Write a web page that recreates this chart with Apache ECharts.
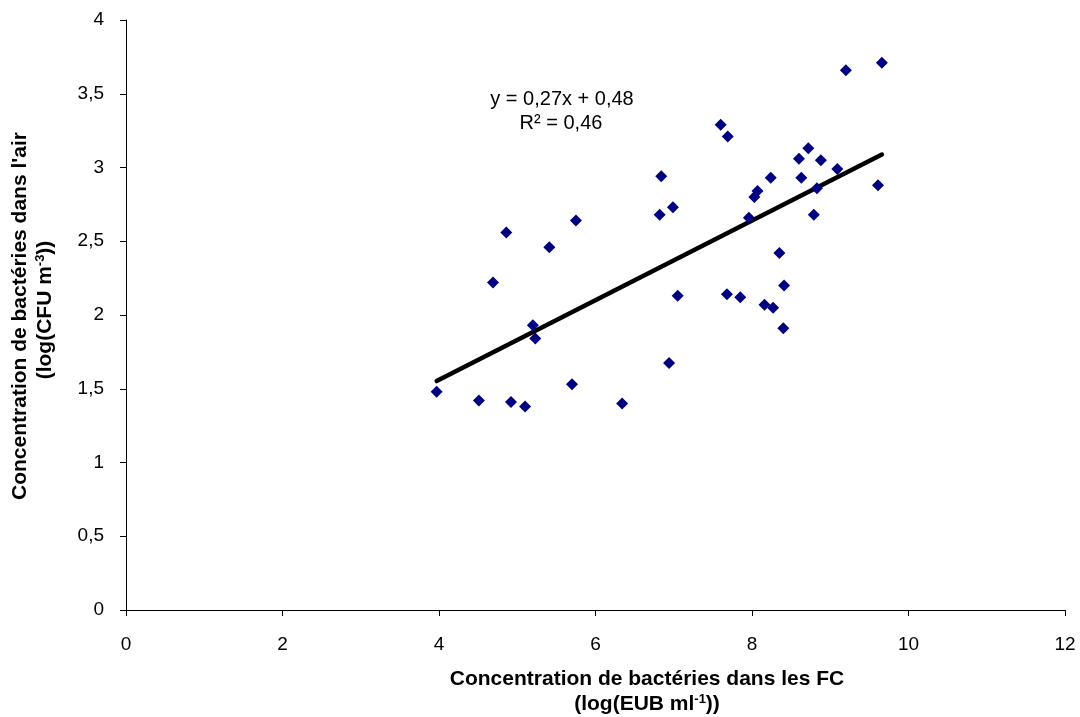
<!DOCTYPE html>
<html>
<head>
<meta charset="utf-8">
<script src="https://cdn.jsdelivr.net/npm/echarts@6/dist/echarts.min.js"></script>
<style>
  html, body { margin: 0; padding: 0; background: #fff; }
  #chart { width: 1080px; height: 717px; }
</style>
</head>
<body>
<div id="chart"></div>
<script>
// Bacterial concentration in FC (x) vs. in air (y), log scale values
const fcLog = [3.97, 4.51, 4.69, 4.86, 4.92, 5.10, 5.20, 5.23, 5.41, 5.70,
               5.75, 6.34, 6.82, 6.84, 6.99, 6.94, 7.05, 7.60, 7.69, 7.68,
               7.85, 7.96, 8.03, 8.07, 8.16, 8.24, 8.27, 8.35, 8.41, 8.40,
               8.60, 8.63, 8.72, 8.88, 9.09, 8.83, 9.61, 8.79, 9.20, 9.66];
const airLog = [1.48, 1.42, 2.22, 2.56, 1.41, 1.38, 1.93, 1.84, 2.46, 1.53,
                2.64, 1.40, 2.68, 2.94, 2.73, 1.675, 2.13, 3.29, 3.21, 2.14,
                2.12, 2.66, 2.80, 2.84, 2.07, 2.93, 2.05, 2.42, 2.20, 1.91,
                3.06, 2.93, 3.13, 3.05, 2.99, 2.86, 2.88, 2.68, 3.66, 3.71];

// Linear fit as reported on the chart
const slope = 0.27;
const intercept = 0.48;
const r2 = 0.46;

const xTicks = { min: 0, max: 12, interval: 2 };
const yTicks = { min: 0, max: 4, interval: 0.5 };

const fmt = v => String(v).replace('.', ',');

const points = fcLog.map((x, i) => [x, airLog[i]]);
const xMin = Math.min(...fcLog), xMax = Math.max(...fcLog);
const fitLine = [[xMin, slope * xMin + intercept], [xMax, slope * xMax + intercept]];

const chart = echarts.init(document.getElementById('chart'));
const font = 'Liberation Sans, Arial, sans-serif';

chart.setOption({
  animation: false,
  backgroundColor: '#fff',
  grid: { left: 126, right: 15, top: 20, bottom: 107 },
  xAxis: {
    type: 'value', min: xTicks.min, max: xTicks.max, interval: xTicks.interval,
    axisLine: { show: true, lineStyle: { color: '#000', width: 1 } },
    axisTick: { show: true, inside: false, length: 6, lineStyle: { color: '#000' } },
    splitLine: { show: false },
    axisLabel: { color: '#000', fontFamily: font, fontSize: 19, margin: 25, formatter: fmt }
  },
  yAxis: {
    type: 'value', min: yTicks.min, max: yTicks.max, interval: yTicks.interval,
    axisLine: { show: true, lineStyle: { color: '#000', width: 1 } },
    axisTick: { show: true, inside: false, length: 6, lineStyle: { color: '#000' } },
    splitLine: { show: false },
    axisLabel: { color: '#000', fontFamily: font, fontSize: 19, margin: 22, formatter: fmt }
  },
  series: [
    {
      type: 'scatter',
      data: points,
      symbol: 'diamond',
      symbolSize: 12,
      itemStyle: { color: '#000080', opacity: 1 },
      z: 3
    },
    {
      type: 'line',
      data: fitLine,
      symbol: 'none',
      lineStyle: { color: '#000', width: 4.5, cap: 'round' },
      z: 2
    }
  ],
  graphic: [
    {
      type: 'text',
      style: {
        x: 562, y: 99, text: 'y = ' + fmt(slope) + 'x + ' + fmt(intercept),
        align: 'center', verticalAlign: 'middle',
        font: '20px ' + font, fill: '#000'
      }
    },
    {
      type: 'text',
      style: {
        x: 561, y: 123, text: 'R² = ' + fmt(r2),
        align: 'center', verticalAlign: 'middle',
        font: '20px ' + font, fill: '#000'
      }
    },
    {
      type: 'text',
      style: {
        x: 647, y: 679, text: 'Concentration de bactéries dans les FC',
        align: 'center', verticalAlign: 'middle',
        font: 'bold 21px ' + font, fill: '#000'
      }
    },
    {
      type: 'text',
      style: {
        x: 647, y: 704,
        text: '{n|(log(EUB ml}{s|-1}{n|))}',
        align: 'center', verticalAlign: 'middle',
        rich: {
          n: { fontFamily: font, fontWeight: 'bold', fontSize: 21, color: '#000' },
          s: { fontFamily: font, fontWeight: 'bold', fontSize: 13, color: '#000', verticalAlign: 'top', padding: [0, 0, 9, 0] }
        }
      }
    },
    {
      type: 'text',
      x: 20, y: 316, rotation: Math.PI / 2,
      style: {
        x: 0, y: 0, text: "Concentration de bactéries dans l'air",
        align: 'center', verticalAlign: 'middle',
        font: 'bold 21px ' + font, fill: '#000'
      }
    },
    {
      type: 'text',
      x: 45, y: 310, rotation: Math.PI / 2,
      style: {
        x: 0, y: 0,
        text: '{n|(log(CFU m}{s|-3}{n|))}',
        align: 'center', verticalAlign: 'middle',
        rich: {
          n: { fontFamily: font, fontWeight: 'bold', fontSize: 21, color: '#000' },
          s: { fontFamily: font, fontWeight: 'bold', fontSize: 13, color: '#000', verticalAlign: 'top', padding: [0, 0, 9, 0] }
        }
      }
    }
  ]
});
</script>
</body>
</html>
